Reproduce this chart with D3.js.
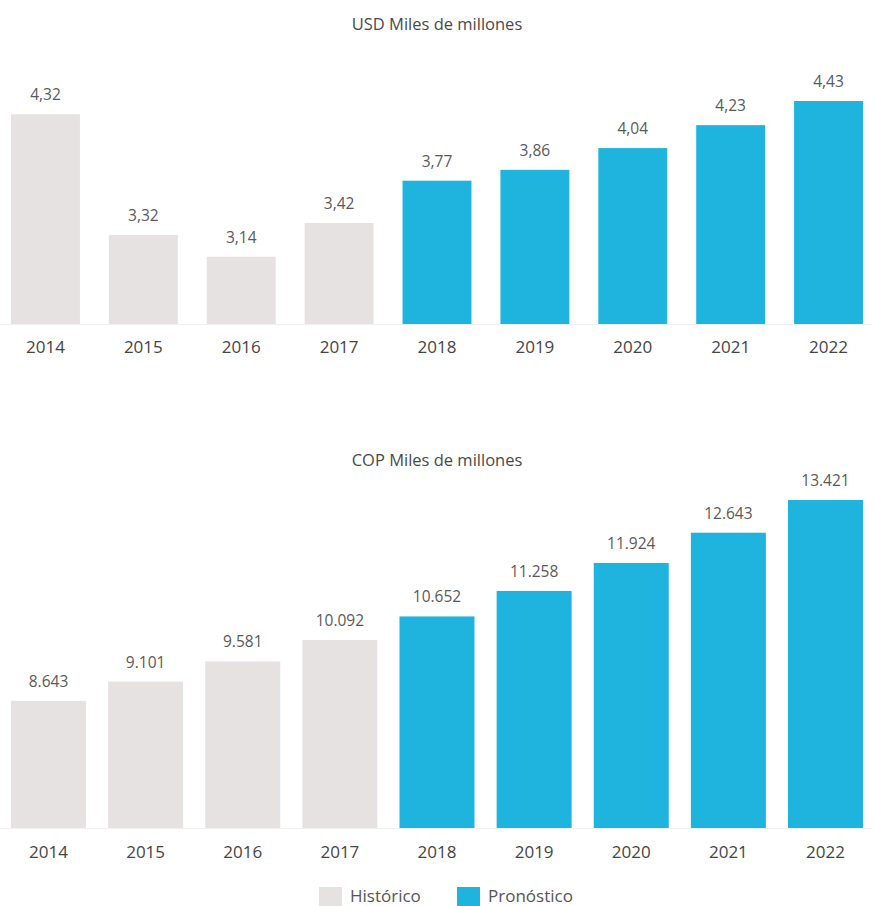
<!DOCTYPE html>
<html>
<head>
<meta charset="utf-8">
<script src="https://cdn.jsdelivr.net/npm/d3@7"></script>
<style>
  body { margin: 0; background: #fff; }
  svg text { font-family: "Open Sans", sans-serif; }
</style>
</head>
<body>
<div id="chart"></div>
<script>
var years = ["2014", "2015", "2016", "2017", "2018", "2019", "2020", "2021", "2022"];
var usdValues = [4.32, 3.32, 3.14, 3.42, 3.77, 3.86, 4.04, 4.23, 4.43];
var copValues = [8643, 9101, 9581, 10092, 10652, 11258, 11924, 12643, 13421];
var kinds = ["Histórico", "Histórico", "Histórico", "Histórico", "Pronóstico", "Pronóstico", "Pronóstico", "Pronóstico", "Pronóstico"];
var legendLabels = ["Histórico", "Pronóstico"];

var W = 876, H = 906;
var color = d3.scaleOrdinal().domain(legendLabels).range(["#e5e2e1", "#1eb4de"]);

var svg = d3.select("#chart").append("svg")
    .attr("width", W)
    .attr("height", H);

var fmtUsd = function (v) { return d3.format(".2f")(v).replace(".", ","); };
var fmtCop = function (v) { return d3.format(",")(v).replace(/,/g, "."); };

function drawPanel(cfg) {
    var data = years.map(function (y, i) { return { year: y, value: cfg.values[i], kind: kinds[i] }; });

    var x = d3.scaleBand()
        .domain(years)
        .range([11, 863])
        .paddingInner(cfg.pad)
        .paddingOuter(0);

    var y = d3.scaleLinear()
        .domain(cfg.domain)
        .range([cfg.base, cfg.top]);

    var g = svg.append("g");

    g.append("text")
        .attr("x", 437)
        .attr("y", cfg.titleY)
        .attr("text-anchor", "middle")
        .style("font-size", "16.5px")
        .style("fill", "#4a4a4a")
        .text(cfg.title);

    // baseline
    g.append("line")
        .attr("x1", 0).attr("x2", 872)
        .attr("y1", cfg.base + 0.5).attr("y2", cfg.base + 0.5)
        .style("stroke", "#efefef")
        .style("stroke-width", 1);

    g.selectAll("rect.bar")
        .data(data)
        .enter()
        .append("rect")
        .attr("class", "bar")
        .attr("x", function (d) { return x(d.year); })
        .attr("y", function (d) { return y(d.value); })
        .attr("width", x.bandwidth())
        .attr("height", function (d) { return cfg.base - y(d.value); })
        .style("fill", function (d) { return color(d.kind); });

    g.selectAll("text.val")
        .data(data)
        .enter()
        .append("text")
        .attr("class", "val")
        .attr("x", function (d) { return x(d.year) + x.bandwidth() / 2; })
        .attr("y", function (d) { return y(d.value) - cfg.labelGap; })
        .attr("text-anchor", "middle")
        .style("font-size", "15.5px")
        .style("fill", "#5a5a5a")
        .text(function (d) { return cfg.fmt(d.value); });

    // year axis, no line or ticks
    var axis = g.append("g")
        .attr("transform", "translate(0," + cfg.base + ")")
        .call(d3.axisBottom(x).tickSize(0).tickPadding(cfg.tickPad));
    axis.select(".domain").remove();
    axis.selectAll("text")
        .style("font-family", "'Open Sans', sans-serif")
        .style("font-size", "17px")
        .style("fill", "#454545");
}

drawPanel({
    title: "USD Miles de millones", titleY: 30,
    values: usdValues, fmt: fmtUsd,
    domain: [2.583, 4.43], base: 324, top: 101,
    pad: 0.296, labelGap: 14, tickPad: 17
});

drawPanel({
    title: "COP Miles de millones", titleY: 466,
    values: copValues, fmt: fmtCop,
    domain: [5620, 13421], base: 828, top: 500,
    pad: 0.228, labelGap: 14, tickPad: 18
});

// legend
var lx = d3.scalePoint().domain(legendLabels).range([319, 457]);
var leg = svg.append("g").selectAll("g")
    .data(legendLabels)
    .enter()
    .append("g")
    .attr("transform", function (d) { return "translate(" + lx(d) + ",887)"; });
leg.append("rect")
    .attr("width", 23).attr("height", 22)
    .style("fill", function (d) { return color(d); });
leg.append("text")
    .attr("x", 31).attr("y", 15)
    .style("font-size", "17px")
    .style("fill", "#555")
    .text(function (d) { return d; });
</script>
</body>
</html>
